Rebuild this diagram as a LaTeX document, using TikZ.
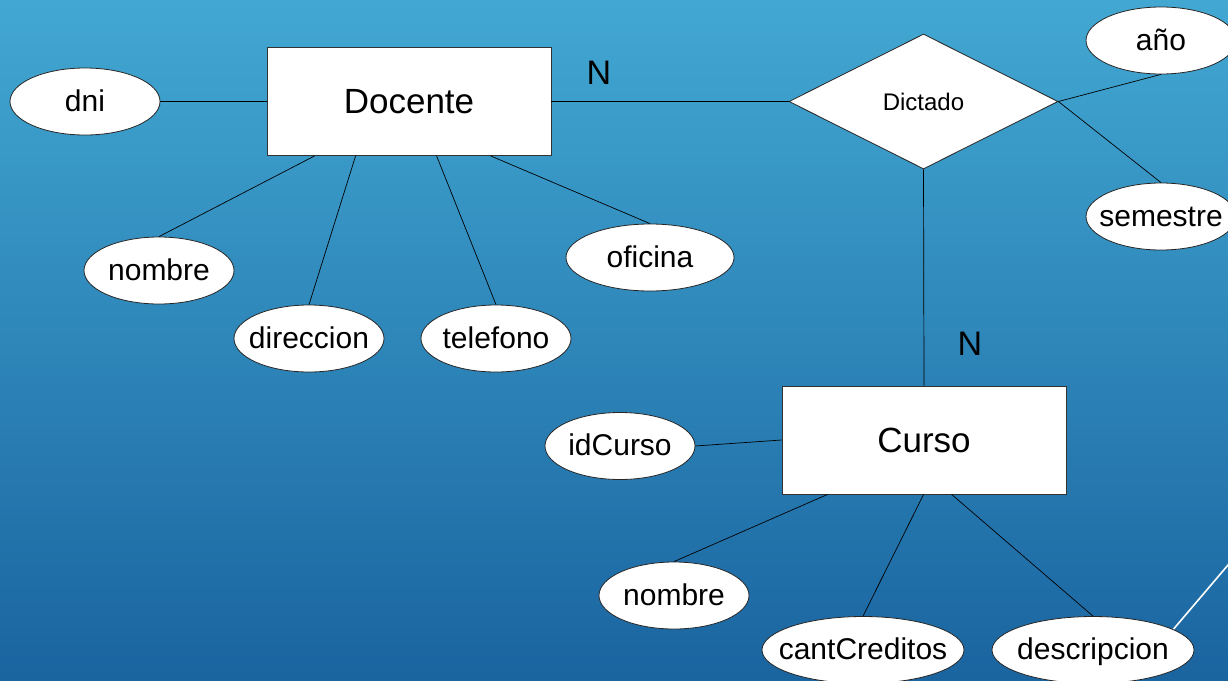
\documentclass[tikz,border=0pt]{standalone}
\usepackage{fontspec}
\setmainfont{Liberation Sans}
\usetikzlibrary{shapes.geometric,calc}
\definecolor{bgtop}{RGB}{66,168,210}
\definecolor{bgbot}{RGB}{26,100,160}
\newcommand{\ctext}[1]{\makebox[0pt]{#1}}
\begin{document}
\begin{tikzpicture}[x=1pt,y=-1pt,
  entity/.style={rectangle, draw=black!80, fill=white, line width=0.8pt,
    minimum width=284pt, minimum height=108pt, inner sep=0pt,
    font=\fontsize{35}{35}\selectfont},
  attr/.style={ellipse, draw=black!85, fill=white, line width=0.8pt,
    minimum width=150pt, minimum height=67pt, inner sep=0pt,
    text height=22pt, text depth=3pt,
    font=\fontsize{30}{30}\selectfont},
  wideattr/.style={attr, minimum width=202pt},
  rel/.style={diamond, draw=black!85, fill=white, line width=0.8pt,
    minimum width=269pt, minimum height=135pt, inner sep=0pt,
    font=\fontsize{24}{24}\selectfont},
  link/.style={draw=black, line width=0.7pt},
  card/.style={font=\fontsize{34}{34}\selectfont, inner sep=0pt},
  deco/.style={draw=white, line width=1.6pt}]

\useasboundingbox (0,0) rectangle (1228,680);
\shade[top color=bgtop, bottom color=bgbot] (0,0) rectangle (1228,680);

% decorative slide line
\coordinate (d1) at (1160,645);
\coordinate (d2) at (1245,545);
\draw[deco] (d1) -- (d2);

% entities
\node[entity] (doc) at (409,101.5) {\ctext{Docente}};
\node[entity] (cur) at (924,440) {\ctext{Curso}};

% relationship
\node[rel] (dic) at (923.5,101.5) {\ctext{Dictado}};

% attributes of Docente
\node[attr] (dni) at (85,101.5) {\ctext{dni}};
\node[attr] (nom) at (159,270.5) {\ctext{nombre}};
\node[attr] (dir) at (309,338.5) {\ctext{direccion}};
\node[attr] (tel) at (496,338.5) {\ctext{telefono}};
\node[attr, minimum width=168pt] (ofi) at (650,257.5) {\ctext{oficina}};

% attributes of Dictado
\node[attr] (ano) at (1161,40.5) {\ctext{año}};
\node[attr] (sem) at (1161,216.5) {\ctext{semestre}};

% attributes of Curso
\node[attr] (idc) at (620,446) {\ctext{idCurso}};
\node[attr] (nom2) at (674,595.5) {\ctext{nombre}};
\node[wideattr] (cant) at (863,650) {\ctext{cantCreditos}};
\node[wideattr] (desc) at (1093,650) {\ctext{descripcion}};

% cardinalities
\node[card] (n1) at (599,73) {N};
\node[card] (n2) at (970,344) {N};

% connectors
\draw[link] (dni.east) -- (doc.west);
\draw[link] ([xshift=48pt]doc.south west) -- (nom.north);
\draw[link] ([xshift=89pt]doc.south west) -- (dir.north);
\draw[link] ([xshift=170pt]doc.south west) -- (tel.north);
\draw[link] ([xshift=224pt]doc.south west) -- (ofi.north);
\draw[link] (doc.east) -- (dic.west);
\draw[link] (dic.east) -- (ano.south);
\draw[link] (dic.east) -- (sem.north);
\draw[link] (dic.south) -- (cur.north);
\draw[link] (idc.east) -- (cur.west);
\draw[link] ([xshift=46pt]cur.south west) -- (nom2.north);
\draw[link] ([xshift=142pt]cur.south west) -- (cant.north);
\draw[link] ([xshift=170pt]cur.south west) -- (desc.north);
\end{tikzpicture}
\end{document}
